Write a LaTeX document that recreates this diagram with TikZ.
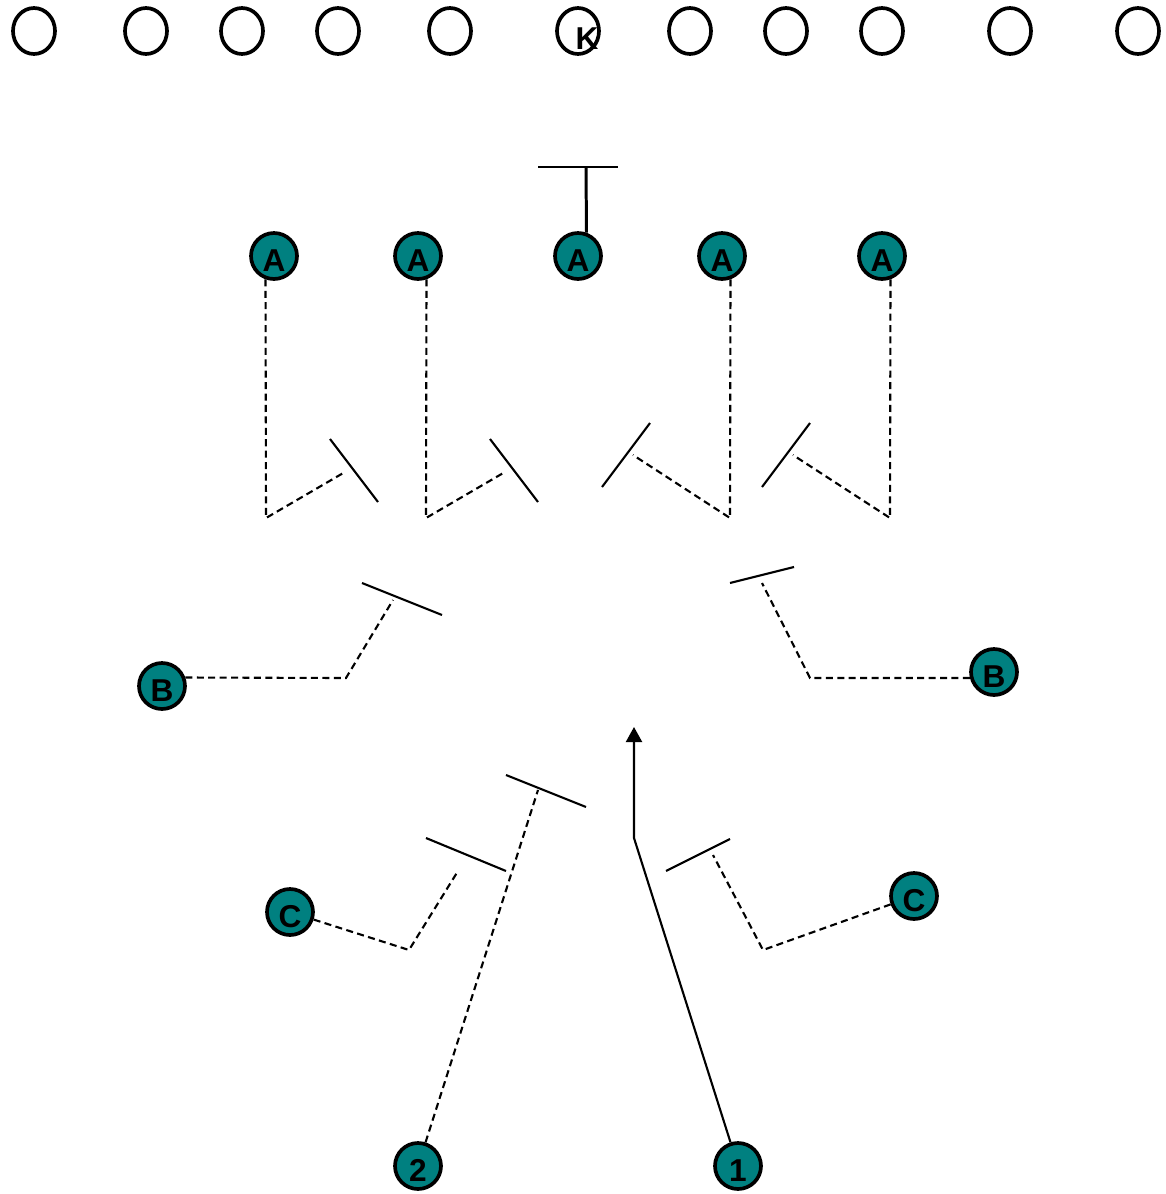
\documentclass[tikz,border=0pt]{standalone}
\usepackage{fontspec}
\setmainfont{Liberation Sans}
\usetikzlibrary{shapes.geometric,arrows.meta}

\begin{document}
\begin{tikzpicture}[x=0.02cm, y=-0.02cm,
    every node/.style={font=\fontsize{18}{18}\selectfont\bfseries},
    spot/.style={ellipse, draw, line width=2.1pt, minimum width=0.84cm, minimum height=0.92cm, inner sep=0pt},
    player/.style={circle, draw, line width=2.1pt, fill=teal, minimum size=0.92cm, inner sep=0pt, text height=0.6cm, text depth=0pt},
    route/.style={line width=1.2pt, dash pattern=on 4pt off 2.5pt},
    block/.style={line width=1.2pt},
    post/.style={line width=1.7pt}]
    \useasboundingbox (0,0) rectangle (1166,1194);

    % Line of scrimmage
    \foreach \x [count=\i] in {34,146,242,338,450,578,690,786,882,1010,1138}
        \node[spot] (S\i) at (\x,31) {};
    \node[label={[xshift=0.18cm, yshift=-0.16cm]center:K}] at (S6) {};

    % Front players
    \node[player] (A1) at (274,256) {A};
    \node[player] (A2) at (418,256) {A};
    \node[player] (A3) at (578,256) {A};
    \node[player] (A4) at (722,256) {A};
    \node[player] (A5) at (882,256) {A};

    % Second and third rows
    \node[player] (B1) at (162,686) {B};
    \node[player] (B2) at (994,672) {B};
    \node[player] (C1) at (290,912) {C};
    \node[player] (C2) at (914,896) {C};

    % Back players
    \node[player] (P2) at (418,1166) {2};
    \node[player] (P1) at (738,1166) {1};

    % Corners and contact points
    \coordinate (a1c) at (266,518);  \coordinate (a1t) at (345,472);
    \coordinate (a2c) at (426,518);  \coordinate (a2t) at (505,472);
    \coordinate (a4c) at (730,518);  \coordinate (a4t) at (633,455);
    \coordinate (a5c) at (890,518);  \coordinate (a5t) at (793,455);
    \coordinate (b1c) at (346,678);  \coordinate (b1t) at (393,600);
    \coordinate (b2c) at (810,678);  \coordinate (b2t) at (762,583);
    \coordinate (c1c) at (409,950);  \coordinate (c1t) at (458,871);
    \coordinate (c2c) at (763,950);  \coordinate (c2t) at (713,855);
    \coordinate (p2t) at (538,790);
    \coordinate (p1c) at (634,838);  \coordinate (p1t) at (634,727);
    \coordinate (kbar) at (586,167);

    % Middle post
    \draw[post] (A3.70) -- (kbar);
    \draw[post] ([xshift=-0.96cm]kbar) -- ([xshift=0.64cm]kbar);

    % Routes
    \draw[route] (A1.-110) -- (a1c) -- (a1t);
    \draw[route] (A2.-70) -- (a2c) -- (a2t);
    \draw[route] (A4.-70) -- (a4c) -- (a4t);
    \draw[route] (A5.-70) -- (a5c) -- (a5t);
    \draw[route] (B1.20) -- (b1c) -- (b1t);
    \draw[route] (B2.194) -- (b2c) -- (b2t);
    \draw[route] (C1) -- (c1c) -- (c1t);
    \draw[route] (C2) -- (c2c) -- (c2t);
    \draw[route] (P2) -- (p2t);
    \draw[block, -{Triangle[length=0.3cm, width=0.32cm]}] (P1) -- (p1c) -- (p1t);

    % Blocks
    \draw[block] (330,439) -- (378,502);
    \draw[block] (490,439) -- (538,502);
    \draw[block] (602,487) -- (650,423);
    \draw[block] (762,487) -- (810,423);
    \draw[block] (362,583) -- (442,615);
    \draw[block] (730,583) -- (794,567);
    \draw[block] (426,838) -- (506,871);
    \draw[block] (666,871) -- (730,839);
    \draw[block] (506,775) -- (586,807);
\end{tikzpicture}
\end{document}
